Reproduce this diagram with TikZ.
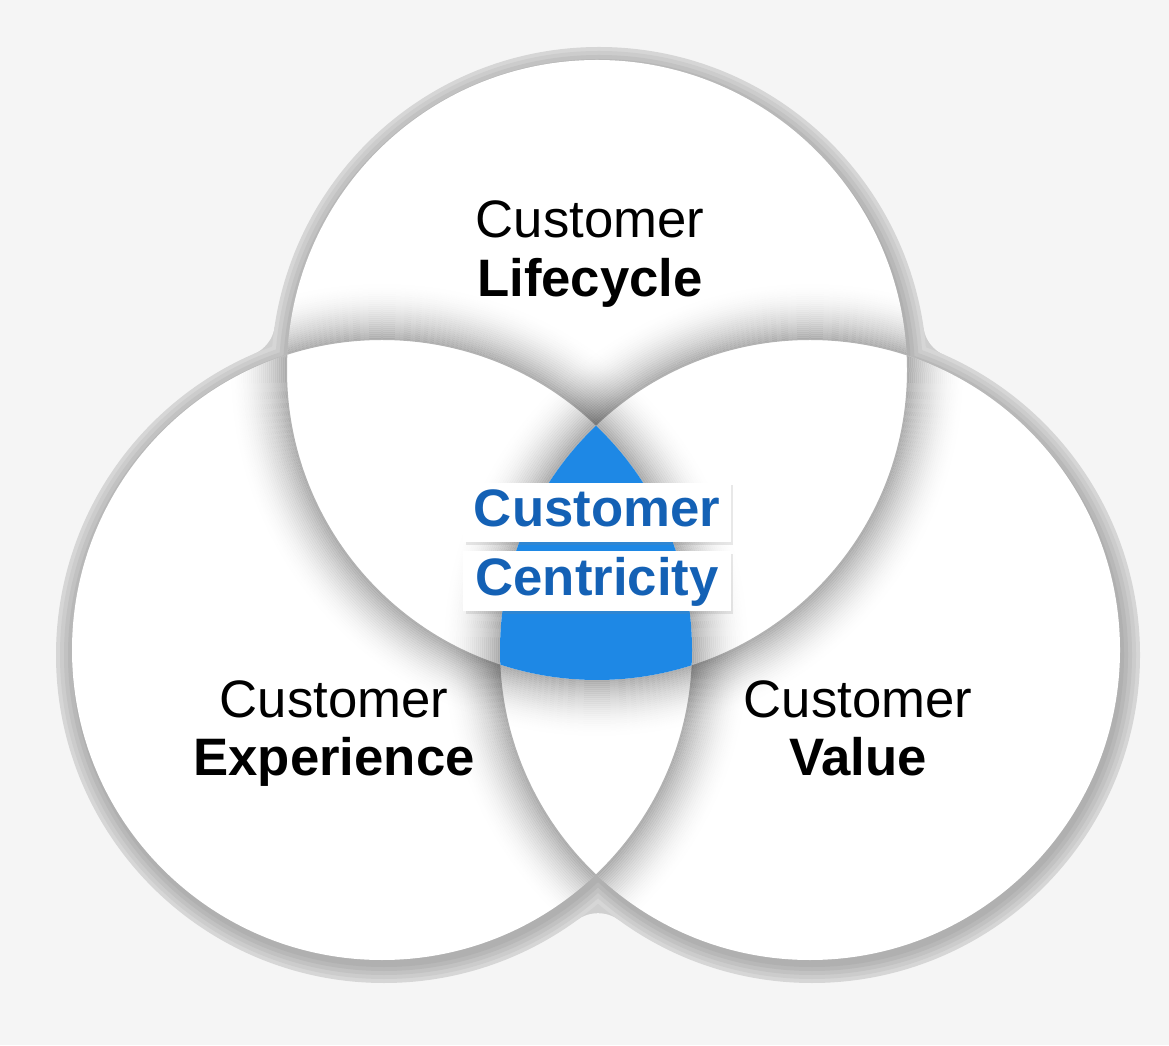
\documentclass[tikz,border=0pt]{standalone}
\usepackage{fontspec}
\setmainfont{Liberation Sans}
\usepackage{xcolor}
\usepackage{tikz}
\usetikzlibrary{positioning,calc,shadows}

\definecolor{pagebg}{HTML}{F5F5F5}
\definecolor{centerblue}{HTML}{1E88E5}
\definecolor{labelblue}{HTML}{1461B5}

\tikzset{
	circlabel/.style={font=\fontsize{30}{34}\selectfont, text=black, inner sep=0pt, anchor=base},
	circlabelbold/.style={circlabel, font=\fontsize{30}{34}\selectfont\bfseries},
	centrebox/.style={fill=white, minimum width=5.36cm, minimum height=1.2cm, inner sep=0pt,
		text height=22pt, text depth=6pt, text=labelblue,
		font=\fontsize{30}{36}\selectfont\bfseries,
		drop shadow={shadow xshift=0.05cm, shadow yshift=-0.05cm, opacity=0.18}},
}

\begin{document}
\begin{tikzpicture}[
				x=0.02cm, y=0.02cm,
			]
			\pgfmathsetmacro{\r}{310}
			\pgfmathsetmacro{\rf}{35}

			\coordinate (top) at (597,675);
			\coordinate (left) at (382,395);
			\coordinate (right) at (810,395);
			% shadow centres, a bit lower
			\coordinate (stop) at (599,670);
			\coordinate (sleft) at (384,390);
			\coordinate (sright) at (812,390);
			% fillets between the rims
			\coordinate (ftl) at (240,723.2);
			\coordinate (ftr) at (958.2,722.2);
			\coordinate (fbot) at (598,96.8);

			\fill[pagebg] (0,0) rectangle (1169,1045);
			\useasboundingbox (0,0) rectangle (1169,1045);

			% outer rim
			\fill[black!19] (stop) -- (sleft) -- (ftl) -- cycle;
			\fill[black!19] (stop) -- (sright) -- (ftr) -- cycle;
			\fill[black!19] (sleft) -- (sright) -- (fbot) -- cycle;
			\fill[pagebg] (ftl) circle (\rf) (ftr) circle (\rf) (fbot) circle (\rf);
			\foreach \d/\k in {18/16,14/20,10/24,6/28,2/31}
				\foreach \s in {stop,sleft,sright}
					\fill[black!\k] (\s) circle ({\r+\d});

			\fill[white] (top) circle (\r) (left) circle (\r) (right) circle (\r);

			% shadows falling on the other circles
			\foreach \c/\a/\b in {top/left/right, left/top/right, right/top/left} {
				\begin{scope}
					\clip (\a) circle (\r) (\b) circle (\r);
					\begin{scope}[even odd rule]
						\clip (0,0) rectangle (1169,1045) (\c) circle (\r);
						\foreach \d [evaluate=\d as \op using {0.30*(1-\d/30)^2}] in {0,...,29}
							\draw[black, line width=0.04cm, opacity=\op] (\c) circle ({\r+2*\d+1});
					\end{scope}
				\end{scope}
			}

			\begin{scope}
				\clip (top) circle (\r);
				\clip (left) circle (\r);
				\fill[centerblue] (right) circle (\r);
			\end{scope}

			\node[centrebox] (cust) at (597,532.5) {Customer};
			\node[centrebox, below=0.16cm of cust] (centr) {Centricity};

			\node[circlabel] (lifeA) at (590,807) {Customer};
			\node[circlabelbold] (lifeB) at (590,748) {Lifecycle};
			\node[circlabel] (expA) at (334,328) {Customer};
			\node[circlabelbold] (expB) at (334,270) {Experience};
			\node[circlabel] (valA) at (858,328) {Customer};
			\node[circlabelbold] (valB) at (858,270) {Value};

		\end{tikzpicture}
\end{document}
